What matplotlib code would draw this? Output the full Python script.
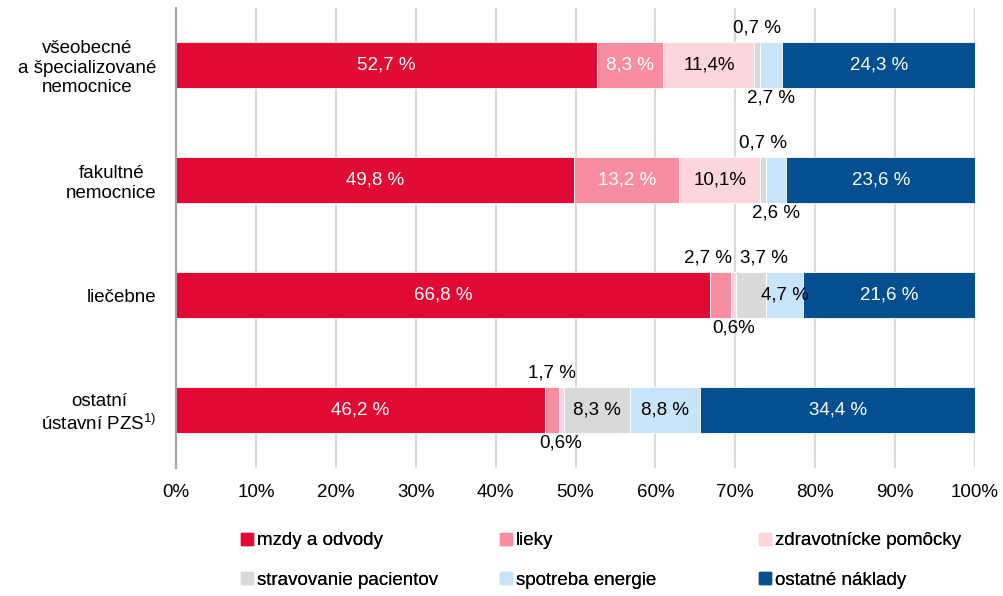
import matplotlib
matplotlib.use('Agg')
import matplotlib.pyplot as plt
import matplotlib.ticker as tkr
from matplotlib.lines import Line2D

plt.rcParams['font.family'] = ['Liberation Sans', 'DejaVu Sans']
plt.rcParams['mathtext.fontset'] = 'custom'
plt.rcParams['mathtext.rm'] = 'Liberation Sans'
plt.rcParams['mathtext.it'] = 'Liberation Sans'

categories = ["všeobecné\na špecializované\nnemocnice",
              "fakultné\nnemocnice",
              "liečebne",
              "ostatní\nústavní PZS$^{1)}$"]
series = ["mzdy a odvody", "lieky", "zdravotnícke pomôcky",
          "stravovanie pacientov", "spotreba energie", "ostatné náklady"]

mzdy = [52.7, 49.8, 66.8, 46.2]
lieky = [8.3, 13.2, 2.7, 1.7]
pomocky = [11.4, 10.1, 0.6, 0.6]
stravovanie = [0.7, 0.7, 3.7, 8.3]
energia = [2.7, 2.6, 4.7, 8.8]
ostatne = [24.3, 23.6, 21.6, 34.4]

mzdy_lbl = ["52,7 %", "49,8 %", "66,8 %", "46,2 %"]
lieky_lbl = ["8,3 %", "13,2 %", "2,7 %", "1,7 %"]
pomocky_lbl = ["11,4%", "10,1%", "0,6%", "0,6%"]
stravovanie_lbl = ["0,7 %", "0,7 %", "3,7 %", "8,3 %"]
energia_lbl = ["2,7 %", "2,6 %", "4,7 %", "8,8 %"]
ostatne_lbl = ["24,3 %", "23,6 %", "21,6 %", "34,4 %"]

values = [mzdy, lieky, pomocky, stravovanie, energia, ostatne]
labels = [mzdy_lbl, lieky_lbl, pomocky_lbl, stravovanie_lbl, energia_lbl, ostatne_lbl]
colors = ["#E10A32", "#F78DA0", "#FCD5DD", "#D9D9D9", "#C8E4FB", "#034F8F"]
text_colors = ["white", "white", "black", "black", "black", "white"]

FS = 13.5

fig = plt.figure(figsize=(10.04, 5.96), dpi=100)
ax = fig.add_axes([176 / 1004, 1 - 467.5 / 596, 799 / 1004, 460 / 596])

ypos = list(range(len(categories)))
left = [0.0] * len(categories)
small = {}
above = {}
for s in range(len(series)):
    ax.barh(ypos, values[s], left=left, height=0.4, color=colors[s],
            edgecolor="white", linewidth=0.6, zorder=3)
    for i, v in enumerate(values[s]):
        xc = left[i] + v / 2
        if v >= 4:
            ax.text(xc, i, labels[s][i], ha="center", va="center",
                    color=text_colors[s], fontsize=FS, zorder=4)
        else:
            k = small.get(i, 0)
            small[i] = k + 1
            dy = -0.32 if k % 2 == 0 else 0.29
            t = ax.text(xc, i + dy, labels[s][i], ha="center", va="center",
                        color="black", fontsize=FS, zorder=4)
            if k % 2 == 0:
                above.setdefault(i, []).append(t)
    left = [l + v for l, v in zip(left, values[s])]

ax.set_xlim(0, 100)
ax.set_ylim(len(categories) - 0.5, -0.5)
ax.set_yticks(ypos)
ax.set_yticklabels(categories, fontsize=FS, multialignment="center")
ax.set_xticks(range(0, 101, 10))
ax.xaxis.set_major_formatter(tkr.FuncFormatter(lambda x, pos: "%d%%" % x))
ax.tick_params(axis="both", length=0, labelsize=FS)
ax.tick_params(axis="x", pad=12)
ax.tick_params(axis="y", pad=14)
ax.grid(axis="x", color="#D9D9D9", linewidth=1.5, zorder=0)
ax.set_axisbelow(True)
for sp in ["top", "right", "bottom"]:
    ax.spines[sp].set_visible(False)
ax.spines["left"].set_color("#A6A6A6")
ax.spines["left"].set_linewidth(1.5)
ax.spines["left"].set_zorder(5)

# push apart labels above the bar that would collide
fig.canvas.draw()
r = fig.canvas.get_renderer()
px = 799 / 100.0
for i, ts in above.items():
    for a, b in zip(ts, ts[1:]):
        ba = a.get_window_extent(r)
        bb = b.get_window_extent(r)
        gap = bb.x0 - ba.x1
        if gap < 8:
            d = (8 - gap) / 2 / px
            xa, ya = a.get_position()
            xb, yb = b.get_position()
            a.set_position((xa - d, ya))
            b.set_position((xb + d, yb))

handles = [Line2D([], [], marker="s", linestyle="none", markersize=8,
                  markerfacecolor=c, markeredgecolor=c) for c in colors]
for col, xpx in enumerate([241, 500, 759]):
    leg = fig.legend([handles[col], handles[col + 3]],
                     [series[col], series[col + 3]],
                     loc="upper left", bbox_to_anchor=(xpx / 1004, 1 - 532 / 596),
                     frameon=False, fontsize=FS, handlelength=0.6,
                     handletextpad=0.25, labelspacing=1.2, borderpad=0,
                     borderaxespad=0)
    fig.add_artist(leg)

fig.savefig("out.png", dpi=100)
